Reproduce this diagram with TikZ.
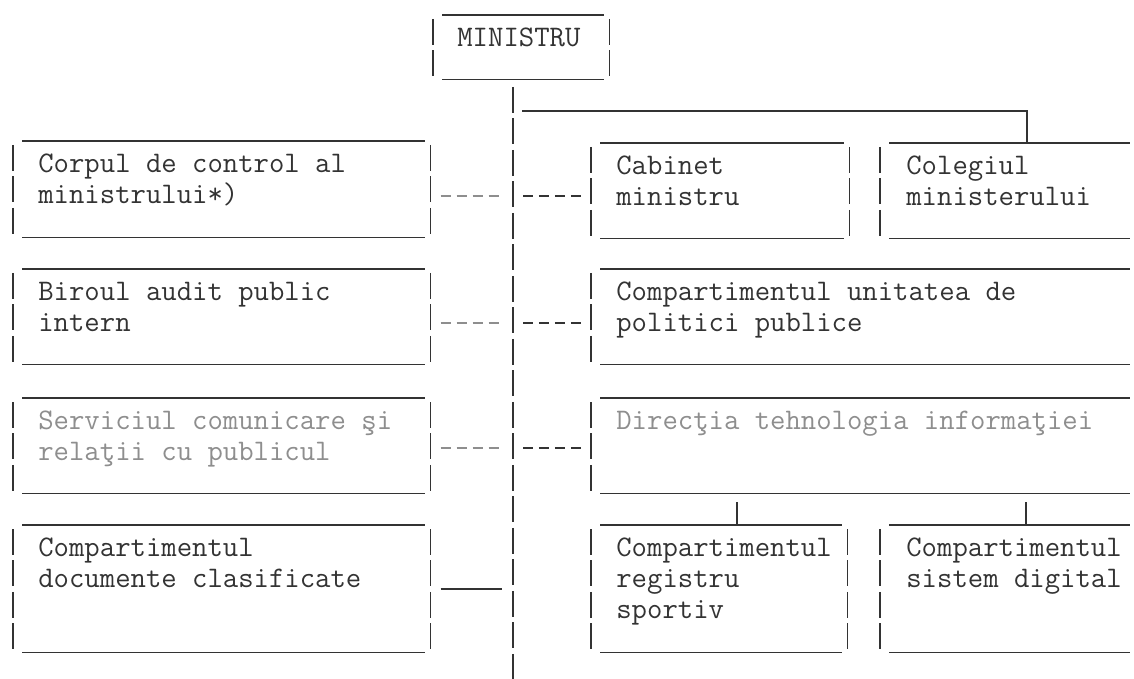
\documentclass[tikz,border=0pt]{standalone}
\usepackage{fontspec}
\usepackage{tikz}
\usetikzlibrary{calc, positioning}
\definecolor{ink}{HTML}{333333}
\definecolor{fade}{HTML}{8E8E8E}
\tikzset{
    line/.style = {draw=ink, line width=0.7pt},
    pipe/.style = {line, dash pattern=on 0.52cm off 0.11cm},
    hyph/.style = {line, dash pattern=on 0.2cm off 0.12cm},
    frame/.style 2 args = {rectangle, inner sep=0pt, anchor=north west,
                           minimum width=#1*0.02cm, minimum height=#2*0.02cm},
    txt/.style = {inner sep=0pt, anchor=north west, align=left, text=ink,
                  font=\ttfamily\fontsize{17}{17.6}\selectfont},
    faded/.style = {txt, text=fade}
    }

\begin{document}
\begin{tikzpicture}[
      x = 0.02cm, y = -0.02cm % one unit is one pixel of the scan
    ]
    \useasboundingbox (0,0) rectangle (1134,679);

    % frames
    \node[frame={176}{64}]  (min)   at (433,15)  {};
    \node[frame={417}{96}]  (corp)  at (13,141)  {};
    \node[frame={417}{95}]  (birou) at (13,269)  {};
    \node[frame={417}{95}]  (serv)  at (13,398)  {};
    \node[frame={417}{127}] (docs)  at (13,525)  {};
    \node[frame={258}{95}]  (cab)   at (591,143) {};
    \node[frame={255}{95}]  (coleg) at (880,143) {};
    \node[frame={544}{95}]  (upp)   at (591,269) {};
    \node[frame={544}{95}]  (dti)   at (591,398) {};
    \node[frame={256}{127}] (reg)   at (591,525) {};
    \node[frame={255}{127}] (sd)    at (880,525) {};

    \foreach \b in {min,corp,birou,serv,docs,cab,coleg,upp,dti,reg,sd}{
      \draw[line] ($(\b.north west)+(9,0)$) -- ($(\b.north east)+(-6,0)$);
      \draw[line] ($(\b.south west)+(9,0)$) -- ($(\b.south east)+(-6,0)$);
      \draw[pipe] ($(\b.north west)+(0,4)$) -- (\b.south west);
    }
    \foreach \b in {min,corp,birou,serv,docs,cab,reg}
      \draw[pipe] ($(\b.north east)+(0,4)$) -- (\b.south east);

    % texts
    \node[txt]   (tmin)   at ($(min.north west)+(24,13)$)   {MINISTRU};
    \node[txt]   (tcorp)  at ($(corp.north west)+(25,13)$)  {Corpul de control al\\ministrului*)};
    \node[txt]   (tbirou) at ($(birou.north west)+(25,13)$) {Biroul audit public\\intern};
    \node[faded] (tserv)  at ($(serv.north west)+(25,13)$)  {Serviciul comunicare şi\\relaţii cu publicul};
    \node[txt]   (tdocs)  at ($(docs.north west)+(25,13)$)  {Compartimentul\\documente clasificate};
    \node[txt]   (tcab)   at ($(cab.north west)+(25,13)$)   {Cabinet\\ministru};
    \node[txt]   (tcoleg) at ($(coleg.north west)+(26,13)$) {Colegiul\\ministerului};
    \node[txt]   (tupp)   at ($(upp.north west)+(25,13)$)   {Compartimentul unitatea de\\politici publice};
    \node[faded] (tdti)   at ($(dti.north west)+(25,13)$)   {Direcţia tehnologia informaţiei};
    \node[txt]   (treg)   at ($(reg.north west)+(25,13)$)   {Compartimentul\\registru\\sportiv};
    \node[txt]   (tsd)    at ($(sd.north west)+(26,13)$)    {Compartimentul\\sistem digital};

    % spine and links
    \coordinate (top) at (513,87);
    \coordinate (bot) at (513,679);
    \coordinate (t0) at (522,111);
    \coordinate (d1) at (513,196);
    \coordinate (d2) at (513,323);
    \coordinate (d3) at (513,448);
    \coordinate (d4) at (513,589);

    \draw[pipe] (top) -- (bot);
    \draw[line] (t0) -| ($(coleg.north west)+(147,0)$);

    \foreach \b/\c/\d in {corp/cab/d1, birou/upp/d2, serv/dti/d3}{
      \draw[hyph, draw=fade] ([xshift=0.2cm]\b.east |- \d) -- ([xshift=-0.26cm]\d);
      \draw[hyph] ([xshift=0.2cm]\d) -- ([xshift=-0.16cm]\c.west |- \d);
    }
    \draw[line] ([xshift=0.2cm]docs.east |- d4) -- ([xshift=-0.22cm]d4);

    \draw[line] ($(reg.north west)+(146,0)$) -- ($(dti.south west)+(146,8)$);
    \draw[line] ($(sd.north west)+(146,0)$) -- ($(dti.south west)+(435,8)$);
\end{tikzpicture}
\end{document}
